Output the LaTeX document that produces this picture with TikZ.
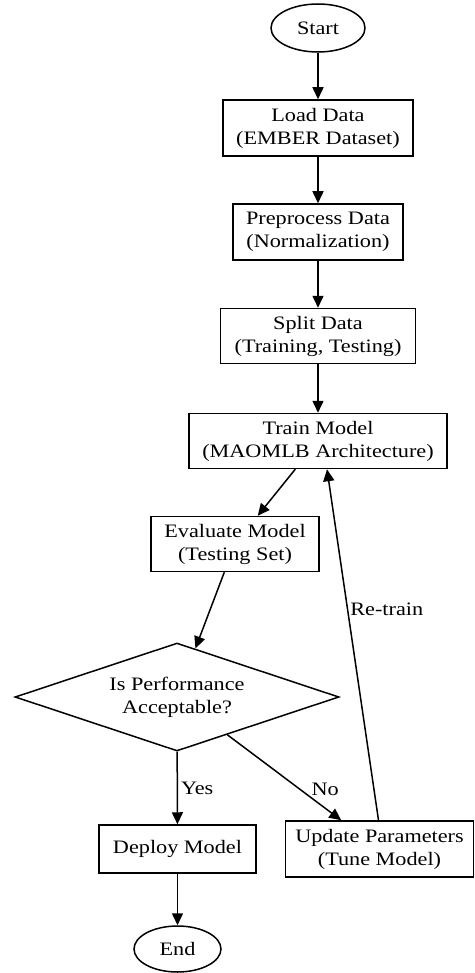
\documentclass[tikz,border=0pt]{standalone}
\usepackage{fontspec}
\setmainfont{Liberation Serif}[FakeStretch=1.17]
\usetikzlibrary{shapes.geometric,arrows.meta}
\tikzset{
  every node/.style={font=\fontsize{19}{23}\selectfont, align=center, inner sep=0pt},
  proc/.style={draw, rectangle, line width=1.5pt},
  term/.style={draw, ellipse, line width=1.5pt},
  decide/.style={draw, diamond, aspect=3, line width=1.5pt},
  flow/.style={line width=1.5pt, -{Triangle[length=12pt,width=11pt]}},
  lbl/.style={font=\fontsize{19}{23}\selectfont}
}
\begin{document}
\begin{tikzpicture}[x=1pt,y=-1pt]
  \useasboundingbox (0,0) rectangle (474,973);
  \node[term, minimum width=94pt, minimum height=48pt] (start) at (318,28) {Start};
  \node[proc, minimum width=190pt, minimum height=56pt] (load) at (318,128) {Load Data\\(EMBER Dataset)};
  \node[proc, minimum width=170pt, minimum height=56pt] (prep) at (318,232) {Preprocess Data\\(Normalization)};
  \node[proc, minimum width=195pt, minimum height=55pt] (split) at (318,336) {Split Data\\(Training, Testing)};
  \node[proc, minimum width=258pt, minimum height=55pt] (train) at (318,441) {Train Model\\(MAOMLB Architecture)};
  \node[proc, minimum width=168pt, minimum height=55pt] (eval) at (235,544) {Evaluate Model\\(Testing Set)};
  \node[decide, minimum width=324pt, minimum height=108pt] (perf) at (177,697) {Is Performance\\Acceptable?};
  \node[proc, minimum width=157pt, minimum height=48pt] (deploy) at (177.5,849) {Deploy Model};
  \node[proc, minimum width=188pt, minimum height=56pt] (update) at (379.5,849) {Update Parameters\\(Tune Model)};
  \node[term, minimum width=87pt, minimum height=46pt] (end) at (177.5,949) {End};

  \draw[flow] (start) -- (load);
  \draw[flow] (load) -- (prep);
  \draw[flow] (prep) -- (split);
  \draw[flow] (split) -- (train);
  \draw[flow] (train) -- (eval);
  \draw[flow] (eval) -- (perf);
  \draw[flow] (perf) -- node[lbl, right=3pt, pos=0.5] {Yes} (deploy);
  \draw[flow] (perf) -- node[lbl, anchor=south west, xshift=6pt, yshift=-4pt, pos=0.68] {No} (update);
  \draw[flow] ([xshift=-1pt]update.north) -- node[lbl, right=2pt, pos=0.6] {Re-train} ([xshift=9pt]train.south);
  \draw[flow] (deploy) -- (end);
\end{tikzpicture}
\end{document}
